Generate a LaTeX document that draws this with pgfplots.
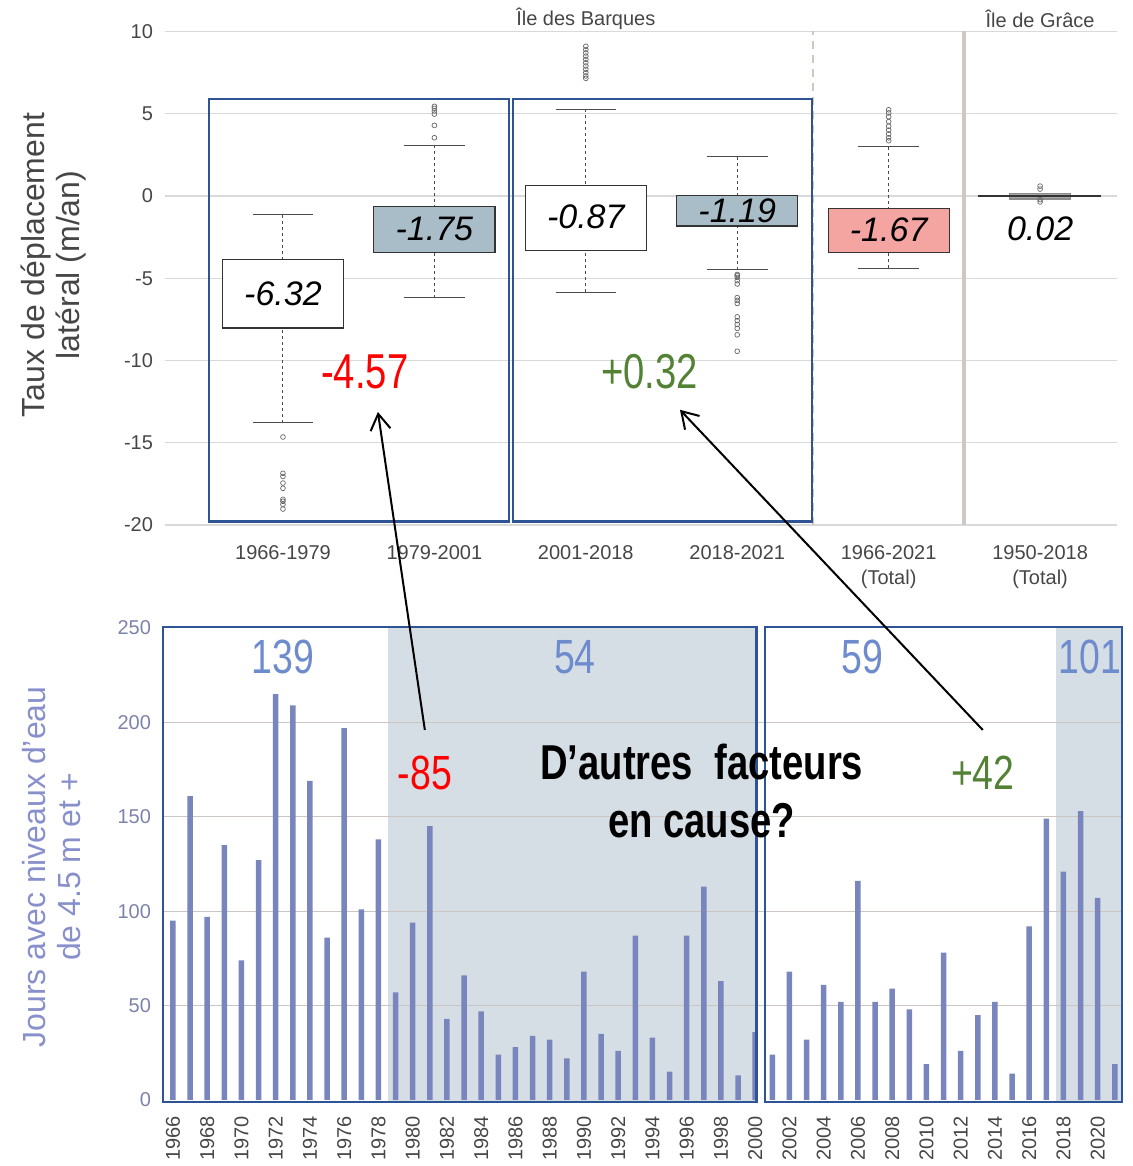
\documentclass[border=0pt]{standalone}
\usepackage{fontspec}
\setmainfont{Liberation Sans}
\newfontfamily\narrowfont[FakeStretch=0.78]{Liberation Sans}
\usepackage{pgfplots}
\pgfplotsset{compat=1.18}
\usepgfplotslibrary{statistics}
\usetikzlibrary{arrows.meta}
\definecolor{frameblue}{RGB}{47,84,150}
\definecolor{boxgray}{RGB}{168,189,199}
\definecolor{boxpink}{RGB}{244,164,161}
\definecolor{gridc}{RGB}{217,217,217}
\definecolor{gridb}{RGB}{205,198,192}
\definecolor{barc}{RGB}{121,133,189}
\definecolor{shadec}{RGB}{214,222,229}
\definecolor{numblue}{RGB}{110,140,205}
\definecolor{ylabblue}{RGB}{136,144,204}
\definecolor{ytickblue}{RGB}{125,130,170}
\definecolor{redc}{RGB}{255,0,0}
\definecolor{greenc}{RGB}{84,130,53}
\definecolor{textgray}{RGB}{70,70,70}
\definecolor{sepgray}{RGB}{205,200,196}
\begin{document}
\begin{tikzpicture}
\useasboundingbox (0,0) rectangle (566pt,583pt);
%================ TOP AXIS =================
\begin{axis}[
  at={(82.5pt,320.5pt)}, anchor=south west,
  scale only axis, width=476pt, height=246.75pt,
  xmin=-0.779, xmax=5.508, ymin=-20, ymax=10,
  axis line style={draw=none},
  tick style={draw=none},
  ytick={-20,-15,...,10},
  ymajorgrids, grid style={gridc, line width=0.6pt},
  xtick={0,...,5},
  xticklabels={1966-1979,1979-2001,2001-2018,2018-2021,1966-2021\\(Total),1950-2018\\(Total)},
  xticklabel style={align=center, font=\fontsize{10}{12.5}\selectfont, text=textgray},
  yticklabel style={font=\fontsize{10}{12}\selectfont, text=textgray, xshift=-2.5pt},
  xticklabel shift=6.5pt,
  /pgf/number format/assume math mode=true,
  clip=false,
  boxplot/draw direction=y,
  boxplot/box extend=0.8,
  boxplot/whisker extend=0.4,
  boxplot/draw/median/.code={},
  boxplot/draw/lower whisker/.code={%
    \draw[black!70, line width=0.5pt, dash pattern=on 1.5pt off 1.5pt]
      (boxplot box cs:\pgfplotsboxplotvalue{lower whisker},0.5) --
      (boxplot box cs:\pgfplotsboxplotvalue{lower quartile},0.5);
    \draw[black!70, line width=0.5pt]
      (boxplot whisker cs:\pgfplotsboxplotvalue{lower whisker},0) --
      (boxplot whisker cs:\pgfplotsboxplotvalue{lower whisker},1);
  },
  boxplot/draw/upper whisker/.code={%
    \draw[black!70, line width=0.5pt, dash pattern=on 1.5pt off 1.5pt]
      (boxplot box cs:\pgfplotsboxplotvalue{upper whisker},0.5) --
      (boxplot box cs:\pgfplotsboxplotvalue{upper quartile},0.5);
    \draw[black!70, line width=0.5pt]
      (boxplot whisker cs:\pgfplotsboxplotvalue{upper whisker},0) --
      (boxplot whisker cs:\pgfplotsboxplotvalue{upper whisker},1);
  },
  bp/.style={draw=black!80, line width=0.6pt, mark=o, mark size=1.2pt,
    mark options={draw=black!60, line width=0.35pt}},
]
% separators
\draw[sepgray, line width=0.8pt, dash pattern=on 4pt off 3pt] (axis cs:3.5,-20) -- (axis cs:3.5,10);
\draw[sepgray, line width=2pt] (axis cs:4.5,-20) -- (axis cs:4.5,10);

\addplot[bp, boxplot/every box/.style={fill=white},
  boxplot prepared={draw position=0, lower whisker=-13.77, lower quartile=-8.02,
    median=-5.94, upper quartile=-3.86, upper whisker=-1.14}]
  coordinates {(0,-14.65) (0,-16.86) (0,-17.05) (0,-17.45) (0,-17.77) (0,-18.44) (0,-18.56) (0,-18.75) (0,-19.03)};
\addplot[bp, boxplot/every box/.style={fill=boxgray},
  boxplot prepared={draw position=1, lower whisker=-6.19, lower quartile=-3.44,
    median=-2.0, upper quartile=-0.65, upper whisker=3.09}]
  coordinates {(1,3.54) (1,4.29) (1,4.98) (1,5.17) (1,5.33) (1,5.45)};
\addplot[bp, boxplot/every box/.style={fill=white},
  boxplot prepared={draw position=2, lower whisker=-5.86, lower quartile=-3.33,
    median=-1.3, upper quartile=0.66, upper whisker=5.27}]
  coordinates {(2,7.15) (2,7.3) (2,7.5) (2,7.7) (2,7.9) (2,8.1) (2,8.3) (2,8.5) (2,8.7) (2,8.9) (2,9.1)};
\addplot[bp, boxplot/every box/.style={fill=boxgray},
  boxplot prepared={draw position=3, lower whisker=-4.47, lower quartile=-1.82,
    median=-0.9, upper quartile=0.01, upper whisker=2.38}]
  coordinates {(3,-4.77) (3,-4.83) (3,-4.95) (3,-5.14) (3,-5.35) (3,-6.18) (3,-6.35) (3,-6.53) (3,-7.35) (3,-7.58) (3,-7.81) (3,-8.05) (3,-8.44) (3,-9.44)};
\addplot[bp, boxplot/every box/.style={fill=boxpink},
  boxplot prepared={draw position=4, lower whisker=-4.4, lower quartile=-3.44,
    median=-2.1, upper quartile=-0.75, upper whisker=2.98}]
  coordinates {(4,3.36) (4,3.54) (4,3.77) (4,4.0) (4,4.24) (4,4.52) (4,4.82) (4,5.05) (4,5.24)};
\addplot[bp, draw=black!45, boxplot/box extend=0.4, boxplot/every box/.style={fill=black!35},
  boxplot/draw/upper whisker/.code={}, boxplot/draw/lower whisker/.code={},
  boxplot prepared={draw position=5, lower whisker=-0.2, lower quartile=-0.18,
    median=0, upper quartile=0.15, upper whisker=0.18}]
  coordinates {(5,0.6) (5,0.42) (5,-0.22) (5,-0.36)};
\addplot[black!80, line width=1pt] coordinates {(4.59,0) (5.40,0)};

% box labels
\node[font=\fontsize{17}{20}\selectfont\itshape] at (axis cs:0,-5.94) {-6.32};
\node[font=\fontsize{17}{20}\selectfont\itshape] at (axis cs:1,-2.0) {-1.75};
\node[font=\fontsize{17}{20}\selectfont\itshape] at (axis cs:2,-1.28) {-0.87};
\node[font=\fontsize{17}{20}\selectfont\itshape] at (axis cs:3,-0.91) {-1.19};
\node[font=\fontsize{17}{20}\selectfont\itshape] at (axis cs:4,-2.07) {-1.67};
\node[font=\fontsize{17}{20}\selectfont\itshape] at (axis cs:5,-2.0) {0.02};

% headers
\node[font=\fontsize{10}{12}\selectfont, text=textgray] at (axis cs:2,10.75) {Île des Barques};
\node[font=\fontsize{10}{12}\selectfont, text=textgray] at (axis cs:5,10.75) {Île de Grâce};

% frames
\draw[frameblue, line width=1.25pt] (axis cs:-0.489,-19.8) rectangle (axis cs:1.493,5.9);
\draw[frameblue, line width=1.25pt] (axis cs:1.519,-19.8) rectangle (axis cs:3.494,5.9);

% differences
\node[font=\narrowfont\fontsize{24.5}{28}\selectfont, text=redc] at (axis cs:0.54,-10.7) {-4.57};
\node[font=\narrowfont\fontsize{24.5}{28}\selectfont, text=greenc] at (axis cs:2.42,-10.7) {+0.32};

\coordinate (A1) at (axis cs:0.627,-13.13);
\coordinate (A2) at (axis cs:2.622,-13.0);
\end{axis}

%================ BOTTOM AXIS =================
\begin{axis}[
  at={(81.5pt,33pt)}, anchor=south west,
  scale only axis, width=479.5pt, height=236pt,
  xmin=1965.42, xmax=2021.42, ymin=0, ymax=250,
  axis line style={draw=none},
  tick style={draw=none},
  ytick={0,50,...,250},
  xtick={1966,1968,...,2020},
  xticklabel style={rotate=90, anchor=east, font=\fontsize{10}{12}\selectfont, text=textgray},
  xticklabel shift=4.5pt,
  yticklabel style={font=\fontsize{10}{12}\selectfont, text=ytickblue, xshift=-2.5pt},
  /pgf/number format/1000 sep={},
  /pgf/number format/assume math mode=true,
  clip=false,
]
\fill[shadec] (axis cs:1978.55,-1) rectangle (axis cs:2000.09,250.5);
\fill[shadec] (axis cs:2017.55,-1) rectangle (axis cs:2021.42,250.5);
\foreach \g in {50,100,150,200} {
  \edef\temp{\noexpand\draw[gridb, line width=0.6pt] (axis cs:1965.42,\g) -- (axis cs:2021.42,\g);}
  \temp
}

\addplot[ybar, bar width=2.8pt, fill=barc, draw=none] coordinates {
(1966,95) (1967,161) (1968,97) (1969,135) (1970,74) (1971,127) (1972,215) (1973,209)
(1974,169) (1975,86) (1976,197) (1977,101) (1978,138) (1979,57) (1980,94) (1981,145)
(1982,43) (1983,66) (1984,47) (1985,24) (1986,28) (1987,34) (1988,32) (1989,22)
(1990,68) (1991,35) (1992,26) (1993,87) (1994,33) (1995,15) (1996,87) (1997,113)
(1998,63) (1999,13) (2000,36) (2001,24) (2002,68) (2003,32) (2004,61) (2005,52)
(2006,116) (2007,52) (2008,59) (2009,48) (2010,19) (2011,78) (2012,26) (2013,45)
(2014,52) (2015,14) (2016,92) (2017,149) (2018,121) (2019,153) (2020,107) (2021,19)};

\draw[frameblue, line width=1.25pt] (axis cs:1965.42,-1) rectangle (axis cs:2000.09,250.5);
\draw[frameblue, line width=1.25pt] (axis cs:2000.56,-1) rectangle (axis cs:2021.42,250.5);

\node[font=\narrowfont\fontsize{24}{28}\selectfont, text=numblue] at (axis cs:1972.42,234.6) {139};
\node[font=\narrowfont\fontsize{24}{28}\selectfont, text=numblue] at (axis cs:1989.47,234.6) {54};
\node[font=\narrowfont\fontsize{24}{28}\selectfont, text=numblue] at (axis cs:2006.28,234.6) {59};
\node[font=\narrowfont\fontsize{24}{28}\selectfont, text=numblue] at (axis cs:2019.53,234.6) {101};
\node[font=\narrowfont\fontsize{24}{28}\selectfont, text=redc] at (axis cs:1980.71,173.2) {-85};
\node[font=\narrowfont\fontsize{24}{28}\selectfont, text=greenc] at (axis cs:2013.29,173.2) {+42};
\node[font=\narrowfont\bfseries\fontsize{24.5}{29}\selectfont, align=center] at (axis cs:1996.88,163.5) {D’autres\ \ facteurs\\en cause?};

\coordinate (B1) at (axis cs:1980.71,196);
\coordinate (B2) at (axis cs:2013.29,196);
\end{axis}

\draw[-{Straight Barb[length=8pt,width=10pt]}, line width=1pt] (B1) -- (A1);
\draw[-{Straight Barb[length=8pt,width=10pt]}, line width=1pt] (B2) -- (A2);

% y labels
\node[rotate=90, align=center, font=\fontsize{16}{17.5}\selectfont, text=textgray] at (27pt,450.5pt) {Taux de déplacement\\latéral (m/an)};
\node[rotate=90, align=center, font=\fontsize{16}{17.5}\selectfont, text=ylabblue] at (26pt,149.5pt) {Jours avec niveaux d’eau\\de 4.5 m et +};
\end{tikzpicture}
\end{document}
